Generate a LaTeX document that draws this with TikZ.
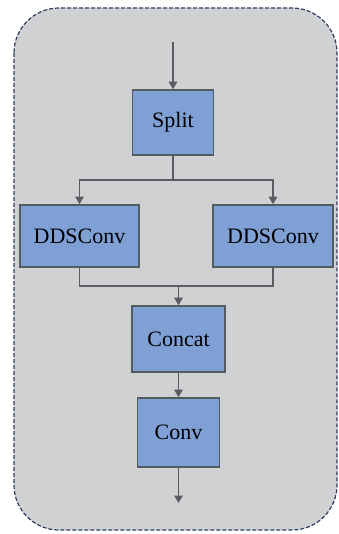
\documentclass[tikz,border=0pt]{standalone}
\usepackage{fontspec}
\setmainfont{Liberation Serif}
\usetikzlibrary{arrows.meta}
\definecolor{panelgray}{HTML}{D0D1D3}
\definecolor{paneledge}{HTML}{2E3C5E}
\definecolor{boxblue}{HTML}{7FA0D4}
\definecolor{boxedge}{HTML}{555A60}
\definecolor{wire}{HTML}{5A5C60}
\begin{document}
\begin{tikzpicture}[x=1pt,y=-1pt,
  block/.style={draw=boxedge,line width=1.6pt,fill=boxblue,rectangle,inner sep=0pt,
    font=\fontsize{22}{25}\selectfont},
  wireline/.style={draw=wire,line width=1.4pt},
  flow/.style={wireline,-{Triangle[width=8.5pt,length=7.5pt]}}]
  \useasboundingbox (0,0) rectangle (339,534);
  % rounded dashed panel
  \draw[paneledge,fill=panelgray,line width=1.2pt,dash pattern=on 4pt off 2pt,rounded corners=45pt]
    (14,8) rectangle (337,530);
  % blocks
  \node[block,minimum width=81pt,minimum height=65pt] (split) at (173,122.5) {Split};
  \node[block,minimum width=119pt,minimum height=62pt] (ddsl) at (79.5,236) {DDSConv};
  \node[block,minimum width=120pt,minimum height=62pt] (ddsr) at (273,236) {DDSConv};
  \node[block,minimum width=93pt,minimum height=66pt] (concat) at (178.5,339) {Concat};
  \node[block,minimum width=82pt,minimum height=69pt] (conv) at (178.5,432.5) {Conv};
  % free ends and junctions
  \coordinate (in) at (173,42);
  \coordinate (out) at (178.5,503);
  \coordinate (fork) at (173,180);
  \coordinate (join) at (178.5,286);
  % connectors
  \draw[flow] (in) -- (split.north);
  \draw[wireline] (split.south) -- (fork);
  \draw[flow] (fork) -| (ddsl.north);
  \draw[flow] (fork) -| (ddsr.north);
  \draw[wireline] (ddsl.south) |- (join);
  \draw[wireline] (ddsr.south) |- (join);
  \draw[flow] (join) -- (concat.north);
  \draw[flow] (concat.south) -- (conv.north);
  \draw[flow] (conv.south) -- (out);
\end{tikzpicture}
\end{document}
